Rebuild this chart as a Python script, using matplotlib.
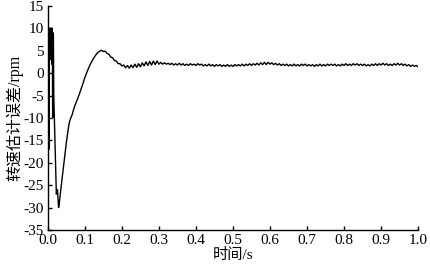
import numpy as np
import matplotlib

matplotlib.use("Agg")
import matplotlib.pyplot as plt

plt.rcParams["font.family"] = ["Liberation Serif", "Noto Sans CJK SC"]
plt.rcParams["axes.unicode_minus"] = False

# start-up transient (s, rpm)
t_start = [0.000, 0.002, 0.003, 0.004, 0.005, 0.006, 0.007, 0.008, 0.009, 0.010,
           0.011, 0.012, 0.013, 0.014, 0.015, 0.016, 0.020, 0.023, 0.026, 0.029,
           0.031, 0.035, 0.040, 0.045, 0.050, 0.055, 0.058, 0.062, 0.066]
e_start = [0.0, 10.0, -17.0, 10.0, 4.0, 10.0, 3.0, 10.0, 5.0, 10.0,
           2.0, 10.0, -10.0, 9.0, 8.7, -5.0, -18.0, -27.0, -26.0, -30.0,
           -29.0, -26.0, -22.5, -19.0, -15.5, -12.5, -11.0, -10.0, -9.2]

# 0.07 s .. 1.0 s, every 5 ms
e_main = [
    -8.0, -6.8, -5.8, -4.7, -3.5, -2.3, -1.0, 0.1, 1.1, 2.0,
    2.8, 3.5, 4.1, 4.6, 4.9,
    5.1, 4.8, 4.9, 4.4, 4.2, 3.6, 3.4, 2.8, 2.7, 2.1,
    2.1, 1.6, 1.8, 1.2, 1.7, 1.1, 1.8, 1.2, 2.0, 1.3,
    2.1, 1.4, 2.3, 1.6, 2.5, 1.7, 2.6, 1.8, 2.7, 1.9,
    2.7, 2.0, 2.4, 2.0, 2.3, 2.0, 2.2, 1.9, 2.2, 1.8,
    2.1, 1.8, 2.2, 1.8,
    2.1, 1.7, 2.0, 1.7, 2.1, 1.8, 2.0, 1.7, 2.1, 1.8,
    2.0, 1.6, 1.9, 1.6, 2.0, 1.6, 1.9, 1.5, 1.9, 1.6,
    1.9, 1.5, 1.8, 1.5, 1.9, 1.5, 1.8, 1.5, 1.9, 1.6,
    1.9, 1.6, 2.0, 1.6, 2.0, 1.7, 2.1, 1.7, 2.1, 1.8,
    2.2, 1.8, 2.3, 1.9, 2.4, 1.9, 2.4, 2.0, 2.3, 1.9,
    2.2, 1.8, 2.1, 1.7, 2.0, 1.7, 2.0, 1.6, 1.9, 1.6,
    2.0, 1.6, 1.9, 1.6, 2.0, 1.7, 2.0, 1.6, 1.9, 1.6,
    1.9, 1.5, 1.9, 1.6, 2.0, 1.6, 1.9, 1.6, 2.0, 1.7,
    2.0, 1.7, 2.0, 1.6, 1.9, 1.6, 2.0, 1.7, 2.1, 1.7,
    2.0, 1.7, 2.1, 1.8, 2.1, 1.7, 2.0, 1.7, 2.0, 1.6,
    1.9, 1.6, 2.0, 1.7, 2.1, 1.7, 2.1, 1.8, 2.2, 1.8,
    2.1, 1.7, 2.0, 1.7, 2.1, 1.8, 2.2, 1.8, 2.1, 1.7,
    2.0, 1.6, 1.9, 1.5, 1.8, 1.5, 1.7, 1.4,
]
t_main = np.linspace(0.07, 1.0, len(e_main))

x_ticks = np.arange(0, 11) / 10
y_ticks = np.arange(-35, 16, 5)

t = np.concatenate([t_start, t_main])
e = np.concatenate([e_start, e_main])

fg = plt.figure(figsize=(4.31, 2.68), dpi=100)
ax = fg.add_axes([0.111, 0.142, 0.859, 0.836])
ax.plot(t, e, color="black", lw=1.0)

ax.set_xlim(0, 1.0)
ax.set_ylim(-35, 15)
ax.set_xticks(x_ticks)
ax.set_xticklabels(["%.1f" % v for v in x_ticks])
ax.set_yticks(y_ticks)
ax.tick_params(direction="in", length=3, width=1, labelsize=11, pad=3)
for s in ["top", "right"]:
    ax.spines[s].set_visible(False)
for s in ["left", "bottom"]:
    ax.spines[s].set_linewidth(1.0)

ax.set_xlabel("时间/s", fontsize=11, labelpad=1)
ax.set_ylabel("转速估计误差/rpm", fontsize=11.5, labelpad=0)

fg.savefig("out.png", dpi=100)
plt.close(fg)
